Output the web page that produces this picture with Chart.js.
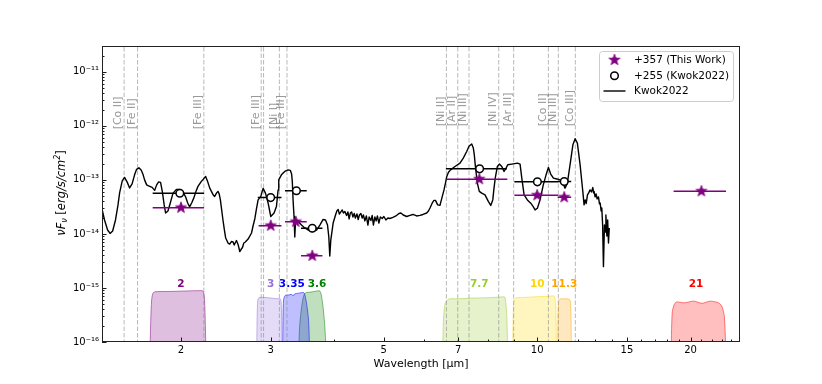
<!DOCTYPE html>
<html>
<head>
<meta charset="utf-8">
<title>SED +357</title>
<script src="https://cdn.jsdelivr.net/npm/chart.js@4.4.1/dist/chart.umd.min.js"></script>
<style>
  html, body { margin: 0; padding: 0; background: #fff; }
  canvas { display: block; }
</style>
</head>
<body>
<canvas id="sed" width="822" height="384"></canvas>
<script>
// axis ticks
var xMajorTicks = [2, 3, 5, 7, 10, 15, 20]
var xMinorTicks = [4, 6, 8, 9, 11, 12, 13, 14, 16, 17, 18, 19, 21, 22, 23, 24]
var yDecades = [-16, -15, -14, -13, -12, -11]

// Kwok2022 spectrum : wavelength [um], nuFnu [erg/s/cm2]
var specWave = [
  1.40, 1.416, 1.436, 1.452, 1.469, 1.488, 1.505, 1.516, 1.534, 1.550,
  1.568, 1.586, 1.604, 1.622, 1.637, 1.654, 1.672, 1.686, 1.697, 1.713,
  1.728, 1.756, 1.776, 1.792, 1.808, 1.824, 1.839, 1.854, 1.866, 1.886,
  1.906, 1.929, 1.959, 1.988, 2.016, 2.043, 2.062, 2.080, 2.099, 2.118,
  2.142, 2.160, 2.193, 2.211, 2.236, 2.259, 2.277, 2.295, 2.314, 2.329,
  2.350, 2.364, 2.377, 2.390, 2.404, 2.418, 2.434, 2.448, 2.474, 2.493,
  2.512, 2.531, 2.544, 2.570, 2.591, 2.609, 2.627, 2.641, 2.657, 2.675,
  2.709, 2.751, 2.770, 2.792, 2.811, 2.834, 2.869, 2.899, 2.931, 2.965,
  3.001, 3.046, 3.079, 3.102, 3.111, 3.149, 3.197, 3.245, 3.278, 3.297,
  3.308, 3.319, 3.334, 3.345, 3.357, 3.396, 3.448, 3.499, 3.552, 3.617,
  3.690, 3.746, 3.802, 3.843, 3.878, 3.901, 3.918, 3.936, 3.978, 4.021,
  4.045, 4.069, 4.091, 4.119, 4.144, 4.167, 4.195, 4.227, 4.252, 4.276,
  4.300, 4.324, 4.349, 4.375, 4.398, 4.429, 4.455, 4.479, 4.509, 4.536,
  4.560, 4.591, 4.622, 4.654, 4.681, 4.718, 4.745, 4.771, 4.803, 4.832,
  4.858, 4.891, 4.924, 4.965, 5.003, 5.049, 5.095, 5.140, 5.211, 5.282,
  5.355, 5.403, 5.460, 5.545, 5.628, 5.705, 5.802, 5.888, 5.969, 6.070,
  6.119, 6.161, 6.225, 6.273, 6.316, 6.379, 6.445, 6.514, 6.564, 6.609,
  6.644, 6.698, 6.760, 6.898, 7.056, 7.161, 7.273, 7.349, 7.439, 7.494,
  7.527, 7.562, 7.630, 7.699, 7.784, 7.900, 8.019, 8.107, 8.182, 8.229,
  8.275, 8.354, 8.429, 8.522, 8.610, 8.688, 8.754, 8.915, 9.144, 9.256,
  9.327, 9.426, 9.566, 9.714, 9.815, 9.906, 10.01, 10.13, 10.28, 10.41,
  10.52, 10.63, 10.76, 10.93, 11.09, 11.23, 11.34, 11.46, 11.60, 11.75,
  11.87, 11.99, 12.14, 12.29, 12.36, 12.42, 12.48, 12.55, 12.62, 12.70,
  12.78, 12.86, 12.90, 12.93, 12.99, 13.05, 13.11, 13.19, 13.25, 13.29,
  13.35, 13.39, 13.44, 13.49, 13.55, 13.60, 13.64, 13.70, 13.75, 13.80,
  13.85
]
var specFlux = [
  2.90e-14, 1.81e-14, 1.18e-14, 1.02e-14, 1.13e-14, 1.81e-14, 3.44e-14, 5.74e-14, 9.58e-14, 1.11e-13,
  9.18e-14, 7.10e-14, 8.43e-14, 1.24e-13, 1.57e-13, 1.67e-13, 1.50e-13, 1.24e-13, 1.00e-13, 8.08e-14,
  7.74e-14, 7.26e-14, 6.39e-14, 8.08e-14, 9.18e-14, 8.99e-14, 5.99e-14, 3.44e-14, 2.44e-14, 2.66e-14,
  3.74e-14, 5.62e-14, 6.66e-14, 6.66e-14, 5.99e-14, 4.84e-14, 3.74e-14, 3.16e-14, 3.74e-14, 4.54e-14,
  6.25e-14, 7.58e-14, 9.38e-14, 1.02e-13, 1.16e-13, 8.99e-14, 7.10e-14, 6.12e-14, 5.27e-14, 4.94e-14,
  5.74e-14, 6.12e-14, 5.50e-14, 4.26e-14, 2.78e-14, 1.81e-14, 1.18e-14, 8.39e-15, 6.78e-15, 6.49e-15,
  7.23e-15, 7.08e-15, 6.22e-15, 7.54e-15, 6.22e-15, 4.72e-15, 5.25e-15, 5.60e-15, 6.78e-15, 7.08e-15,
  8.04e-15, 1.04e-14, 1.40e-14, 1.89e-14, 2.78e-14, 4.26e-14, 4.94e-14, 6.96e-14, 5.62e-14, 3.74e-14,
  2.10e-14, 2.44e-14, 3.22e-14, 6.52e-14, 1.00e-13, 1.24e-13, 1.43e-13, 1.53e-13, 1.50e-13, 1.29e-13,
  9.18e-14, 4.26e-14, 2.06e-14, 8.76e-15, 1.81e-14, 1.70e-14, 1.46e-14, 1.29e-14, 1.18e-14, 1.11e-14,
  1.18e-14, 1.46e-14, 1.85e-14, 1.81e-14, 1.46e-14, 8.76e-15, 3.89e-15, 7.70e-15, 1.59e-14, 2.24e-14,
  2.66e-14, 2.84e-14, 2.34e-14, 2.55e-14, 2.78e-14, 2.44e-14, 2.60e-14, 2.20e-14, 2.55e-14, 1.89e-14,
  2.44e-14, 2.55e-14, 2.06e-14, 2.39e-14, 1.97e-14, 2.34e-14, 1.85e-14, 2.24e-14, 2.39e-14, 1.97e-14,
  2.24e-14, 1.74e-14, 2.15e-14, 1.46e-14, 2.06e-14, 1.77e-14, 2.20e-14, 1.46e-14, 2.06e-14, 1.74e-14,
  2.15e-14, 1.59e-14, 2.06e-14, 1.93e-14, 2.10e-14, 1.81e-14, 1.97e-14, 1.93e-14, 2.02e-14, 2.15e-14,
  2.39e-14, 2.44e-14, 2.24e-14, 2.10e-14, 2.20e-14, 2.29e-14, 2.15e-14, 2.20e-14, 2.29e-14, 2.44e-14,
  2.66e-14, 3.02e-14, 3.74e-14, 4.17e-14, 4.17e-14, 3.44e-14, 3.37e-14, 4.94e-14, 6.52e-14, 8.80e-14,
  1.14e-13, 1.38e-13, 1.53e-13, 1.77e-13, 2.04e-13, 2.53e-13, 3.35e-13, 4.18e-13, 4.60e-13, 3.87e-13,
  2.91e-13, 1.82e-13, 8.80e-14, 6.12e-14, 5.67e-14, 5.27e-14, 3.99e-14, 3.37e-14, 4.26e-14, 7.10e-14,
  1.09e-13, 1.77e-13, 1.96e-13, 1.77e-13, 1.43e-13, 1.65e-13, 1.90e-13, 1.96e-13, 2.04e-13, 1.96e-13,
  1.09e-13, 5.27e-14, 4.26e-14, 3.70e-14, 3.22e-14, 2.78e-14, 2.99e-14, 4.26e-14, 8.08e-14, 1.24e-13,
  1.69e-13, 1.28e-13, 1.08e-13, 1.04e-13, 1.00e-13, 8.69e-14, 7.02e-14, 8.69e-14, 1.90e-13, 4.46e-13,
  5.76e-13, 4.80e-13, 1.90e-13, 6.07e-14, 3.44e-14, 4.26e-14, 3.66e-14, 5.27e-14, 5.74e-14, 6.52e-14,
  5.99e-14, 7.20e-14, 5.74e-14, 6.12e-14, 4.84e-14, 5.50e-14, 4.44e-14, 4.84e-14, 3.59e-14, 3.74e-14,
  2.66e-14, 3.02e-14, 1.46e-14, 2.48e-15, 1.46e-14, 1.08e-14, 2.24e-14, 9.14e-15, 1.81e-14, 6.78e-15,
  1.29e-14
]

// +357 photometry (this work)
var thisWave = [2.0, 3.0, 3.36, 3.62, 7.7, 10.0, 11.3, 21.0]
var thisFlux = [3.06e-14, 1.42e-14, 1.68e-14, 3.94e-15, 1.03e-13, 5.2e-14, 4.78e-14, 6.17e-14]
var thisLo = [1.76, 2.84, 3.20, 3.44, 6.64, 9.02, 10.97, 18.52]
var thisHi = [2.22, 3.15, 3.53, 3.79, 8.74, 11.0, 11.66, 23.47]

// +255 photometry (Kwok2022)
var kwokWave = [1.99, 3.0, 3.37, 3.62, 7.71, 10.01, 11.3]
var kwokFlux = [5.66e-14, 4.7e-14, 6.3e-14, 1.27e-14, 1.6e-13, 9.2e-14, 9.3e-14]
var kwokLo = [1.76, 2.83, 3.20, 3.44, 6.62, 9.02, 10.97]
var kwokHi = [2.22, 3.15, 3.53, 3.79, 8.72, 11.0, 11.66]

// emission lines
var lineWave = [1.547, 1.644, 2.218, 2.874, 2.905, 3.12, 3.229, 6.636, 6.985, 7.349, 8.405, 8.991, 10.52, 11.002, 11.88]
var lineName = ['[Co II]', '[Fe II]', '[Fe III]', '[Fe III]', '', '[Ni I]', '[Fe III]', '[Ni II]', '[Ar II]', '[Ni III]', '[Ni IV]', '[Ar III]', '[Co II]', '[Ni III]', '[Co III]']

// filter curves (scaled)
var filterName = ['2', '3', '3.35', '3.6', '7.7', '10', '11.3', '21']
var filterLabelWave = [2, 3, 3.30, 3.70, 7.7, 10, 11.3, 20.5]
var f200Wave = [1.738, 1.745, 1.752, 1.762, 1.78, 1.9, 2.05, 2.2, 2.215, 2.225, 2.232, 2.24]
var f200Curve = [5e-17, 2.5e-16, 6e-16, 8e-16, 8.5e-16, 8.6e-16, 8.8e-16, 8.9e-16, 8.5e-16, 6e-16, 2.5e-16, 5e-17]
var f300Wave = [2.815, 2.822, 2.83, 2.845, 2.9, 3.0, 3.1, 3.135, 3.145, 3.152, 3.158]
var f300Curve = [5e-17, 3e-16, 5.8e-16, 6.6e-16, 6.7e-16, 6.5e-16, 6.3e-16, 6.2e-16, 5.5e-16, 3e-16, 5e-17]
var f335Wave = [3.165, 3.172, 3.18, 3.2, 3.25, 3.3, 3.32, 3.34, 3.4, 3.48, 3.5, 3.53, 3.56, 3.58]
var f335Curve = [5e-17, 3e-16, 6e-16, 7.2e-16, 7.4e-16, 7.6e-16, 7.1e-16, 7.7e-16, 8.0e-16, 8.2e-16, 7.5e-16, 5e-16, 2.5e-16, 5e-17]
var f360Wave = [3.40, 3.42, 3.45, 3.48, 3.51, 3.6, 3.7, 3.745, 3.77, 3.80, 3.83, 3.86]
var f360Curve = [5e-17, 2e-16, 4.5e-16, 7e-16, 8.1e-16, 8.4e-16, 8.8e-16, 8.8e-16, 7.5e-16, 4.5e-16, 2e-16, 5e-17]
var f770Wave = [6.52, 6.55, 6.6, 6.7, 7.0, 7.5, 8.0, 8.5, 8.63, 8.68, 8.72, 8.76]
var f770Curve = [5e-17, 2.7e-16, 5.2e-16, 6.2e-16, 6.3e-16, 6.5e-16, 6.6e-16, 6.8e-16, 6.8e-16, 5.2e-16, 2.7e-16, 5e-17]
var f1000Wave = [8.95, 8.98, 9.02, 9.08, 9.5, 10.0, 10.5, 10.78, 10.84, 10.88, 10.91]
var f1000Curve = [5e-17, 4e-16, 6.1e-16, 6.55e-16, 6.7e-16, 6.9e-16, 7.0e-16, 7.1e-16, 6.4e-16, 4e-16, 5e-17]
var f1130Wave = [10.97, 10.99, 11.02, 11.06, 11.3, 11.55, 11.62, 11.65, 11.68]
var f1130Curve = [5e-17, 3e-16, 5.6e-16, 6.2e-16, 6.3e-16, 6.2e-16, 5.6e-16, 3e-16, 5e-17]
var f2100Wave = [18.3, 18.4, 18.55, 18.75, 19.4, 20.3, 21.05, 21.85, 22.7, 23.05, 23.3, 23.47]
var f2100Curve = [5e-17, 3.4e-16, 4.8e-16, 5.5e-16, 5.3e-16, 5.7e-16, 5.2e-16, 5.7e-16, 5.3e-16, 4.5e-16, 2.9e-16, 5e-17]

var filterCurves = [
  [f200Wave, f200Curve], [f300Wave, f300Curve], [f335Wave, f335Curve], [f360Wave, f360Curve],
  [f770Wave, f770Curve], [f1000Wave, f1000Curve], [f1130Wave, f1130Curve], [f2100Wave, f2100Curve]
]
// purple, mediumpurple, blue, green, yellowgreen, gold, orange, red
var filterColor = [[128, 0, 128], [147, 112, 219], [0, 0, 255], [0, 128, 0], [154, 205, 50], [255, 215, 0], [255, 165, 0], [255, 0, 0]]

var FONT = '"DejaVu Sans", Verdana, sans-serif'

function rgba(c, a) {
  return 'rgba(' + c[0] + ',' + c[1] + ',' + c[2] + ',' + a + ')'
}

function pairs(xs, ys) {
  return xs.map(function(x, i) { return {x: x, y: ys[i]} })
}

// horizontal error bars, broken with nulls
function bars(lo, hi, v) {
  var out = []
  for (var i = 0; i < v.length; i++) {
    out.push({x: lo[i], y: v[i]}, {x: hi[i], y: v[i]}, {x: hi[i], y: null})
  }
  return out
}

// full height vertical lines
function vlines(ws) {
  var out = []
  ws.forEach(function(w) {
    out.push({x: w, y: 1e-17}, {x: w, y: 1e-10}, {x: w, y: null})
  })
  return out
}

var supMap = {'-': '\u207b', '0': '\u2070', '1': '\u00b9', '2': '\u00b2', '3': '\u00b3', '4': '\u2074',
  '5': '\u2075', '6': '\u2076', '7': '\u2077', '8': '\u2078', '9': '\u2079'}
function sup(n) {
  return String(n).split('').map(function(c) { return supMap[c] }).join('')
}

function starImage(color, R, r) {
  var c = document.createElement('canvas')
  c.width = 16
  c.height = 16
  var g = c.getContext('2d')
  g.beginPath()
  for (var i = 0; i < 10; i++) {
    var rad = i % 2 ? r : R
    var a = -Math.PI / 2 + i * Math.PI / 5
    g.lineTo(8 + rad * Math.cos(a), 8 + rad * Math.sin(a))
  }
  g.closePath()
  g.fillStyle = color
  g.fill()
  g.lineWidth = 0.8
  g.strokeStyle = color
  g.stroke()
  return c
}
var starPt = starImage('purple', 5.8, 2.4)

var datasets = [
  { data: pairs(thisWave, thisFlux), showLine: false, pointStyle: starPt, pointRadius: 5, order: 0 },
  { data: pairs(kwokWave, kwokFlux), showLine: false, pointStyle: 'circle', pointRadius: 3.8,
    pointBorderWidth: 1.5, pointBorderColor: '#000', pointBackgroundColor: '#fff', order: 1 },
  { data: bars(thisLo, thisHi, thisFlux), borderColor: 'purple', borderWidth: 1.5, pointRadius: 0, order: 2 },
  { data: bars(kwokLo, kwokHi, kwokFlux), borderColor: '#000', borderWidth: 1.5, pointRadius: 0, order: 3 },
  { data: pairs(specWave, specFlux), borderColor: '#000', borderWidth: 1.4, pointRadius: 0,
    borderJoinStyle: 'round', order: 4 },
  { data: vlines(lineWave), borderColor: 'rgba(128,128,128,0.55)', borderWidth: 1, borderDash: [4.5, 2],
    pointRadius: 0, order: 5 }
]
filterCurves.forEach(function(f, i) {
  datasets.push({
    data: pairs(f[0], f[1]), fill: 'start', tension: 0.25, pointRadius: 0, borderWidth: 1,
    backgroundColor: rgba(filterColor[i], 0.25), borderColor: rgba(filterColor[i], 0.5), order: 6 + i
  })
})

// labels, inward ticks, frame
var decorations = {
  id: 'decorations',
  afterDatasetsDraw: function(chart) {
    var ctx = chart.ctx
    var a = chart.chartArea
    var x = chart.scales.x
    var y = chart.scales.y
    ctx.save()

    // line names
    ctx.font = '11px ' + FONT
    ctx.fillStyle = 'rgba(128,128,128,0.8)'
    ctx.textAlign = 'left'
    ctx.textBaseline = 'bottom'
    lineWave.forEach(function(w, i) {
      if (!lineName[i]) return
      var py = y.getPixelForValue(w < 5 ? 8.6e-13 : 9.8e-13)
      ctx.save()
      ctx.translate(x.getPixelForValue(w), py)
      ctx.rotate(-Math.PI / 2)
      ctx.fillText(lineName[i], 0, 0)
      ctx.restore()
    })

    // filter names
    ctx.font = 'bold 10.5px ' + FONT
    ctx.textAlign = 'center'
    ctx.textBaseline = 'middle'
    filterName.forEach(function(n, i) {
      ctx.fillStyle = rgba(filterColor[i], 1)
      ctx.fillText(n, x.getPixelForValue(filterLabelWave[i]), y.getPixelForValue(1.18e-15))
    })

    // ticks pointing in
    ctx.strokeStyle = '#000'
    ctx.lineWidth = 0.9
    ctx.beginPath()
    xMajorTicks.forEach(function(v) {
      var px = Math.round(x.getPixelForValue(v)) + 0.5
      ctx.moveTo(px, a.bottom); ctx.lineTo(px, a.bottom - 4.5)
    })
    xMinorTicks.forEach(function(v) {
      var px = Math.round(x.getPixelForValue(v)) + 0.5
      ctx.moveTo(px, a.bottom); ctx.lineTo(px, a.bottom - 2.5)
    })
    yDecades.forEach(function(e) {
      var py = Math.round(y.getPixelForValue(Math.pow(10, e))) + 0.5
      ctx.moveTo(a.left, py); ctx.lineTo(a.left + 4.5, py)
      for (var m = 2; m < 10; m++) {
        var v = m * Math.pow(10, e)
        if (v > y.max) break
        py = Math.round(y.getPixelForValue(v)) + 0.5
        ctx.moveTo(a.left, py); ctx.lineTo(a.left + 2.5, py)
      }
    })
    ctx.stroke()

    // frame
    ctx.strokeStyle = '#222'
    ctx.lineWidth = 1
    ctx.strokeRect(Math.round(a.left) + 0.5, Math.round(a.top) + 0.5,
      Math.round(a.right - a.left) - 1, Math.round(a.bottom - a.top) - 1)
    ctx.restore()
  }
}

// legend box (upper right) and y title with sub/superscript
var overlay = {
  id: 'overlay',
  afterDraw: function(chart) {
    var ctx = chart.ctx
    ctx.save()

    // legend
    var bx = 599.5, by = 51.5, bw = 134, bh = 50
    ctx.beginPath()
    ctx.roundRect(bx, by, bw, bh, 3)
    ctx.fillStyle = 'rgba(255,255,255,0.8)'
    ctx.fill()
    ctx.strokeStyle = '#cccccc'
    ctx.lineWidth = 1
    ctx.stroke()

    var mx = 614.5
    ctx.drawImage(starPt, mx - 8, 60 - 8)
    ctx.beginPath()
    ctx.arc(mx, 75.7, 3.8, 0, Math.PI * 2)
    ctx.fillStyle = '#fff'
    ctx.fill()
    ctx.lineWidth = 1.5
    ctx.strokeStyle = '#000'
    ctx.stroke()
    ctx.beginPath()
    ctx.moveTo(603.5, 91)
    ctx.lineTo(625.5, 91)
    ctx.lineWidth = 1.4
    ctx.stroke()

    ctx.fillStyle = '#000'
    ctx.font = '10.5px ' + FONT
    ctx.textAlign = 'left'
    ctx.textBaseline = 'middle'
    ctx.fillText('+357 (This Work)', 634, 60.5)
    ctx.fillText('+255 (Kwok2022)', 634, 76)
    ctx.fillText('Kwok2022', 634, 91.5)

    // y title
    var it = 'italic 11.5px ' + FONT
    var up = '11.5px ' + FONT
    var sm = 'italic 8px ' + FONT
    var parts = [['\u03bd', it, 0], ['F', it, 0], ['\u03bd', sm, 2.5], [' [', up, 0],
      ['erg/s/cm', it, 0], ['2', sm, -5], [']', up, 0]]
    var total = 0
    parts.forEach(function(p) { ctx.font = p[1]; total += ctx.measureText(p[0]).width })
    ctx.translate(64.5, 193)
    ctx.rotate(-Math.PI / 2)
    ctx.textBaseline = 'alphabetic'
    var tx = -total / 2
    parts.forEach(function(p) {
      ctx.font = p[1]
      ctx.fillText(p[0], tx, p[2])
      tx += ctx.measureText(p[0]).width
    })
    ctx.restore()
  }
}

var tickFont = { family: FONT, size: 10 }

new Chart(document.getElementById('sed'), {
  type: 'line',
  data: { datasets: datasets },
  options: {
    responsive: false,
    animation: false,
    events: [],
    devicePixelRatio: 1,
    layout: { padding: { top: 46, right: 82, left: 0, bottom: 0 } },
    plugins: { legend: { display: false }, tooltip: { enabled: false } },
    scales: {
      x: {
        type: 'logarithmic', min: 1.4, max: 25,
        afterBuildTicks: function(s) { s.ticks = xMajorTicks.map(function(v) { return {value: v} }) },
        afterFit: function(s) { s.height = 42 },
        grid: { display: false, drawTicks: false },
        border: { display: false },
        ticks: { callback: function(v) { return String(v) }, font: tickFont, color: '#000',
          padding: 2, maxRotation: 0, autoSkip: false },
        title: { display: true, text: 'Wavelength [\u03bcm]', color: '#000',
          font: { family: FONT, size: 11 }, padding: { top: 0, bottom: 13 } }
      },
      y: {
        type: 'logarithmic', min: 1e-16, max: 3e-11,
        afterBuildTicks: function(s) { s.ticks = yDecades.map(function(e) { return {value: Math.pow(10, e)} }) },
        afterFit: function(s) { s.width = 102 },
        grid: { display: false, drawTicks: false },
        border: { display: false },
        ticks: { callback: function(v) { return '10' + sup(Math.round(Math.log10(v))) }, font: tickFont,
          color: '#000', padding: 3, autoSkip: false }
      }
    }
  },
  plugins: [decorations, overlay]
})
</script>
</body>
</html>
